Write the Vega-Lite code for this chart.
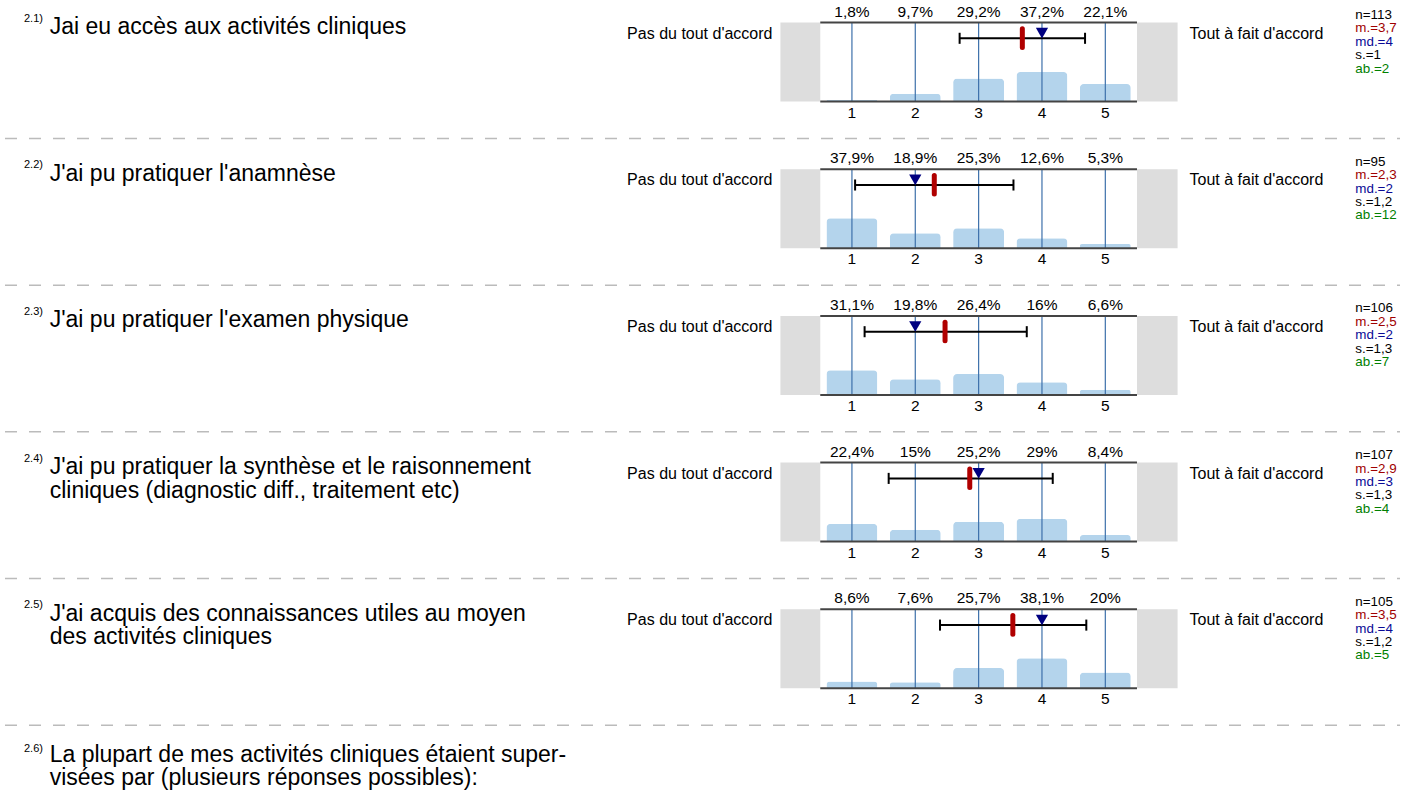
{
  "$schema": "https://vega.github.io/schema/vega-lite/v6.json",
  "background": "white",
  "padding": {"left": 0, "top": 4.5, "right": 0, "bottom": 0},
  "config": {"view": {"stroke": null}, "font": "Liberation Sans"},
  "data": {"values": [
    {"q": "2.1", "t": "bar", "k": 1, "pct": 1.8},
    {"q": "2.1", "t": "bar", "k": 2, "pct": 9.7},
    {"q": "2.1", "t": "bar", "k": 3, "pct": 29.2},
    {"q": "2.1", "t": "bar", "k": 4, "pct": 37.2},
    {"q": "2.1", "t": "bar", "k": 5, "pct": 22.1},
    {"q": "2.2", "t": "bar", "k": 1, "pct": 37.9},
    {"q": "2.2", "t": "bar", "k": 2, "pct": 18.9},
    {"q": "2.2", "t": "bar", "k": 3, "pct": 25.3},
    {"q": "2.2", "t": "bar", "k": 4, "pct": 12.6},
    {"q": "2.2", "t": "bar", "k": 5, "pct": 5.3},
    {"q": "2.3", "t": "bar", "k": 1, "pct": 31.1},
    {"q": "2.3", "t": "bar", "k": 2, "pct": 19.8},
    {"q": "2.3", "t": "bar", "k": 3, "pct": 26.4},
    {"q": "2.3", "t": "bar", "k": 4, "pct": 16},
    {"q": "2.3", "t": "bar", "k": 5, "pct": 6.6},
    {"q": "2.4", "t": "bar", "k": 1, "pct": 22.4},
    {"q": "2.4", "t": "bar", "k": 2, "pct": 15},
    {"q": "2.4", "t": "bar", "k": 3, "pct": 25.2},
    {"q": "2.4", "t": "bar", "k": 4, "pct": 29},
    {"q": "2.4", "t": "bar", "k": 5, "pct": 8.4},
    {"q": "2.5", "t": "bar", "k": 1, "pct": 8.6},
    {"q": "2.5", "t": "bar", "k": 2, "pct": 7.6},
    {"q": "2.5", "t": "bar", "k": 3, "pct": 25.7},
    {"q": "2.5", "t": "bar", "k": 4, "pct": 38.1},
    {"q": "2.5", "t": "bar", "k": 5, "pct": 20},
    {"q": "2.1", "t": "qs", "num": "2.1)", "label": ["Jai eu accès aux activités cliniques"], "n": 113, "mean": 3.69, "median": 4, "sd": 1, "lo": 2.7, "hi": 4.68, "ab": 2},
    {"q": "2.2", "t": "qs", "num": "2.2)", "label": ["J'ai pu pratiquer l'anamnèse"], "n": 95, "mean": 2.3, "median": 2, "sd": 1.2, "lo": 1.05, "hi": 3.55, "ab": 12},
    {"q": "2.3", "t": "qs", "num": "2.3)", "label": ["J'ai pu pratiquer l'examen physique"], "n": 106, "mean": 2.47, "median": 2, "sd": 1.3, "lo": 1.2, "hi": 3.76, "ab": 7},
    {"q": "2.4", "t": "qs", "num": "2.4)", "label": ["J'ai pu pratiquer la synthèse et le raisonnement", "cliniques (diagnostic diff., traitement etc)"], "n": 107, "mean": 2.86, "median": 3, "sd": 1.3, "lo": 1.58, "hi": 4.17, "ab": 4},
    {"q": "2.5", "t": "qs", "num": "2.5)", "label": ["J'ai acquis des connaissances utiles au moyen", "des activités cliniques"], "n": 105, "mean": 3.54, "median": 4, "sd": 1.2, "lo": 2.39, "hi": 4.7, "ab": 5},
    {"q": "2.6", "t": "qs", "num": "2.6)", "label": ["La plupart de mes activités cliniques étaient super-", "visées par (plusieurs réponses possibles):"]}
  ]},
  "facet": {"row": {"field": "q", "type": "ordinal", "header": null}},
  "spacing": {"row": 67.7},
  "bounds": "flush",
  "spec": {
    "width": 1405,
    "height": 79,
    "layer": [
      {
        "transform": [{"filter": "isValid(datum.n)"}],
        "mark": {"type": "rect", "color": "#dddddd"},
        "encoding": {
          "x": {"datum": -0.129, "type": "quantitative", "scale": {"domain": [-12.37, 9.652], "nice": false, "zero": false}, "axis": null},
          "x2": {"datum": 0.5},
          "y": {"datum": 0, "type": "quantitative", "scale": {"domain": [0, 100], "nice": false, "zero": false}, "axis": null},
          "y2": {"datum": 100}
        }
      },
      {
        "transform": [{"filter": "isValid(datum.n)"}],
        "mark": {"type": "rect", "color": "#dddddd"},
        "encoding": {
          "x": {"datum": 5.5, "type": "quantitative", "axis": null},
          "x2": {"datum": 6.141},
          "y": {"datum": 0, "type": "quantitative", "axis": null},
          "y2": {"datum": 100}
        }
      },
      {
        "transform": [{"filter": "datum.t == 'bar'"}],
        "mark": {"type": "bar", "width": 51, "color": "#b4d4ec", "cornerRadiusTopLeft": 4, "cornerRadiusTopRight": 4},
        "encoding": {
          "x": {"field": "k", "type": "quantitative", "axis": null},
          "y": {"field": "pct", "type": "quantitative", "axis": null}
        }
      },
      {
        "transform": [{"filter": "datum.t == 'bar'"}],
        "mark": {"type": "rule", "color": "#3d70aa", "strokeWidth": 1.2},
        "encoding": {
          "x": {"field": "k", "type": "quantitative", "axis": null},
          "y": {"datum": 0, "type": "quantitative", "axis": null},
          "y2": {"datum": 100}
        }
      },
      {
        "transform": [{"filter": "isValid(datum.n)"}],
        "mark": {"type": "rule", "color": "#444444", "strokeWidth": 2},
        "encoding": {
          "x": {"datum": 0.5, "type": "quantitative", "axis": null},
          "x2": {"datum": 5.5},
          "y": {"datum": 100, "type": "quantitative", "axis": null}
        }
      },
      {
        "transform": [{"filter": "isValid(datum.n)"}],
        "mark": {"type": "rule", "color": "#444444", "strokeWidth": 2},
        "encoding": {
          "x": {"datum": 0.5, "type": "quantitative", "axis": null},
          "x2": {"datum": 5.5},
          "y": {"datum": 0, "type": "quantitative", "axis": null}
        }
      },
      {
        "transform": [{"filter": "isValid(datum.n)"}],
        "mark": {"type": "rule", "color": "#000000", "strokeWidth": 2},
        "encoding": {
          "x": {"field": "lo", "type": "quantitative", "axis": null},
          "x2": {"field": "hi"},
          "y": {"datum": 80, "type": "quantitative", "axis": null}
        }
      },
      {
        "transform": [{"filter": "isValid(datum.n)"}],
        "mark": {"type": "rule", "color": "#000000", "strokeWidth": 2},
        "encoding": {
          "x": {"field": "lo", "type": "quantitative", "axis": null},
          "y": {"datum": 73, "type": "quantitative", "axis": null},
          "y2": {"datum": 87}
        }
      },
      {
        "transform": [{"filter": "isValid(datum.n)"}],
        "mark": {"type": "rule", "color": "#000000", "strokeWidth": 2},
        "encoding": {
          "x": {"field": "hi", "type": "quantitative", "axis": null},
          "y": {"datum": 73, "type": "quantitative", "axis": null},
          "y2": {"datum": 87}
        }
      },
      {
        "transform": [{"filter": "isValid(datum.n)"}],
        "mark": {"type": "rule", "color": "#b00000", "strokeWidth": 5, "strokeCap": "round"},
        "encoding": {
          "x": {"field": "mean", "type": "quantitative", "axis": null},
          "y": {"datum": 68.5, "type": "quantitative", "axis": null},
          "y2": {"datum": 92}
        }
      },
      {
        "transform": [{"filter": "isValid(datum.n)"}],
        "mark": {"type": "point", "shape": "triangle-down", "filled": true, "size": 150, "color": "#000080", "opacity": 1},
        "encoding": {
          "x": {"field": "median", "type": "quantitative", "axis": null},
          "y": {"datum": 86.5, "type": "quantitative", "axis": null}
        }
      },
      {
        "transform": [{"filter": "datum.t == 'bar'"}],
        "mark": {"type": "text", "fontSize": 15.5, "baseline": "middle", "dy": -11, "color": "#000000", "text": {"expr": "replace(toString(datum.pct), '.', ',') + '%'"}},
        "encoding": {
          "x": {"field": "k", "type": "quantitative", "axis": null},
          "y": {"datum": 100, "type": "quantitative", "axis": null}
        }
      },
      {
        "transform": [{"filter": "datum.t == 'bar'"}],
        "mark": {"type": "text", "fontSize": 15.5, "baseline": "middle", "dy": 11, "color": "#000000"},
        "encoding": {
          "x": {"field": "k", "type": "quantitative", "axis": null},
          "y": {"datum": 0, "type": "quantitative", "axis": null},
          "text": {"field": "k", "type": "nominal"}
        }
      },
      {
        "transform": [{"filter": "isValid(datum.n)"}],
        "mark": {"type": "text", "fontSize": 16, "baseline": "middle", "align": "right", "dy": 11, "color": "#000000", "text": "Pas du tout d'accord"},
        "encoding": {
          "x": {"datum": -0.254, "type": "quantitative", "axis": null},
          "y": {"datum": 100, "type": "quantitative", "axis": null}
        }
      },
      {
        "transform": [{"filter": "isValid(datum.n)"}],
        "mark": {"type": "text", "fontSize": 16, "baseline": "middle", "align": "left", "dy": 11, "color": "#000000", "text": "Tout à fait d'accord"},
        "encoding": {
          "x": {"datum": 6.329, "type": "quantitative", "axis": null},
          "y": {"datum": 100, "type": "quantitative", "axis": null}
        }
      },
      {
        "transform": [{"filter": "isValid(datum.n)"}],
        "mark": {"type": "text", "fontSize": 13.4, "baseline": "middle", "align": "left", "dy": -7.5, "color": "#000000", "text": {"expr": "'n=' + datum.n"}},
        "encoding": {
          "x": {"datum": 8.946, "type": "quantitative", "axis": null},
          "y": {"datum": 100, "type": "quantitative", "axis": null}
        }
      },
      {
        "transform": [{"filter": "isValid(datum.n)"}],
        "mark": {"type": "text", "fontSize": 13.4, "baseline": "middle", "align": "left", "dy": 5.9, "color": "#a00000", "text": {"expr": "'m.=' + replace(format(datum.mean, '.1~f'), '.', ',')"}},
        "encoding": {
          "x": {"datum": 8.946, "type": "quantitative", "axis": null},
          "y": {"datum": 100, "type": "quantitative", "axis": null}
        }
      },
      {
        "transform": [{"filter": "isValid(datum.n)"}],
        "mark": {"type": "text", "fontSize": 13.4, "baseline": "middle", "align": "left", "dy": 19.3, "color": "#0a0a96", "text": {"expr": "'md.=' + datum.median"}},
        "encoding": {
          "x": {"datum": 8.946, "type": "quantitative", "axis": null},
          "y": {"datum": 100, "type": "quantitative", "axis": null}
        }
      },
      {
        "transform": [{"filter": "isValid(datum.n)"}],
        "mark": {"type": "text", "fontSize": 13.4, "baseline": "middle", "align": "left", "dy": 32.7, "color": "#000000", "text": {"expr": "'s.=' + replace(format(datum.sd, '.1~f'), '.', ',')"}},
        "encoding": {
          "x": {"datum": 8.946, "type": "quantitative", "axis": null},
          "y": {"datum": 100, "type": "quantitative", "axis": null}
        }
      },
      {
        "transform": [{"filter": "isValid(datum.n)"}],
        "mark": {"type": "text", "fontSize": 13.4, "baseline": "middle", "align": "left", "dy": 46.1, "color": "#008000", "text": {"expr": "'ab.=' + datum.ab"}},
        "encoding": {
          "x": {"datum": 8.946, "type": "quantitative", "axis": null},
          "y": {"datum": 100, "type": "quantitative", "axis": null}
        }
      },
      {
        "transform": [{"filter": "datum.t == 'qs' && isValid(datum.n)"}],
        "mark": {"type": "text", "fontSize": 11, "baseline": "alphabetic", "align": "left", "dy": -1, "color": "#000000"},
        "encoding": {
          "x": {"datum": -12.07, "type": "quantitative", "axis": null},
          "y": {"datum": 100, "type": "quantitative", "axis": null},
          "text": {"field": "num", "type": "nominal"}
        }
      },
      {
        "transform": [{"filter": "datum.t == 'qs' && isValid(datum.n)"}],
        "mark": {"type": "text", "fontSize": 23, "lineHeight": 23.5, "baseline": "alphabetic", "align": "left", "dy": 11.5, "color": "#000000"},
        "encoding": {
          "x": {"datum": -11.665, "type": "quantitative", "axis": null},
          "y": {"datum": 100, "type": "quantitative", "axis": null},
          "text": {"field": "label", "type": "nominal"}
        }
      },
      {
        "transform": [{"filter": "datum.t == 'qs' && !isValid(datum.n)"}],
        "mark": {"type": "text", "fontSize": 11, "baseline": "alphabetic", "align": "left", "dy": -4, "color": "#000000"},
        "encoding": {
          "x": {"datum": -12.07, "type": "quantitative", "axis": null},
          "y": {"datum": 100, "type": "quantitative", "axis": null},
          "text": {"field": "num", "type": "nominal"}
        }
      },
      {
        "transform": [{"filter": "datum.t == 'qs' && !isValid(datum.n)"}],
        "mark": {"type": "text", "fontSize": 23, "lineHeight": 23.5, "baseline": "alphabetic", "align": "left", "dy": 5.5, "color": "#000000"},
        "encoding": {
          "x": {"datum": -11.665, "type": "quantitative", "axis": null},
          "y": {"datum": 100, "type": "quantitative", "axis": null},
          "text": {"field": "label", "type": "nominal"}
        }
      },
      {
        "transform": [{"filter": "isValid(datum.n)"}],
        "mark": {"type": "rule", "color": "#bbbbbb", "strokeWidth": 1.5, "strokeDash": [12, 12]},
        "encoding": {
          "x": {"datum": -12.37, "type": "quantitative", "axis": null},
          "x2": {"datum": 9.652},
          "y": {"datum": -46.8, "type": "quantitative", "axis": null}
        }
      }
    ]
  }
}
